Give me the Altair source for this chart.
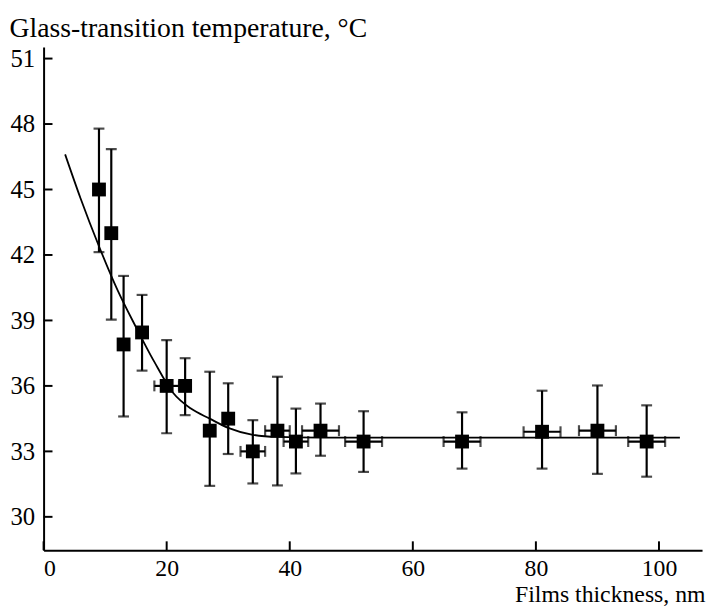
import altair as alt
import pandas as pd

# ---- data ----
thickness = [9, 11, 13, 16, 20, 23, 27, 30, 34, 38, 41, 45, 52, 68, 81, 90, 98]
tg = [45.0, 43.0, 37.9, 38.45, 36.0, 36.0, 33.95, 34.5, 33.0, 33.95, 33.45,
      33.95, 33.45, 33.45, 33.9, 33.95, 33.45]
tg_low = [42.13, 39.04, 34.6, 36.7, 33.83, 34.66, 31.42, 32.88, 31.53, 31.44,
          31.99, 32.8, 32.06, 32.21, 32.21, 31.97, 31.84]
tg_high = [47.79, 46.85, 41.04, 40.17, 38.1, 37.27, 36.65, 36.12, 34.43, 36.42,
           34.96, 35.19, 34.84, 34.79, 35.78, 36.02, 35.11]
thick_err = [0, 0, 0, 0, 2, 0, 0, 0, 2, 2, 2, 3, 3, 3, 3, 3, 3]

fit_thickness = [3.5, 6, 9, 12, 15, 18, 21, 24, 27, 30, 34, 38, 45, 103.4]
fit_tg = [46.61, 44.6, 42.4, 40.4, 38.7, 37.1, 35.7, 34.95, 34.5, 34.08,
          33.76, 33.66, 33.63, 33.63]

x_ticks = [0, 20, 40, 60, 80, 100]
y_ticks = [30, 33, 36, 39, 42, 45, 48, 51]

W, H = 666, 509
FONT = "Liberation Serif"

pts = pd.DataFrame(dict(t=thickness, tg=tg, lo=tg_low, hi=tg_high, xe=thick_err))
pts["xlo"] = pts["t"] - pts["xe"]
pts["xhi"] = pts["t"] + pts["xe"]
fit = pd.DataFrame(dict(t=fit_thickness, tg=fit_tg))

xs = alt.Scale(domain=[0, 107], nice=False, zero=False)
ys = alt.Scale(domain=[28.47, 51.53], nice=False, zero=False)

xaxis = alt.Axis(values=x_ticks, title="Films thickness, nm", ticks=False, tickSize=0,
                 grid=False, domainColor="black", domainWidth=2,
                 labelFont=FONT, labelFontSize=24, labelColor="black", labelPadding=7,
                 titleFont=FONT, titleFontSize=24, titleFontWeight="normal",
                 titleColor="black", titleX=669, titleY=52, titleAlign="right",
                 titleBaseline="alphabetic")
yaxis = alt.Axis(values=y_ticks, title="Glass-transition temperature, °C", ticks=False,
                 tickSize=0, grid=False, domainColor="black", domainWidth=2,
                 labelFont=FONT, labelFontSize=25, labelColor="black", labelPadding=9,
                 titleFont=FONT, titleFontSize=28, titleFontWeight="normal",
                 titleColor="black", titleAngle=0, titleX=-35, titleY=-11,
                 titleAlign="left", titleBaseline="alphabetic")


def X(f):
    return alt.X(f, scale=xs, axis=xaxis)


def Y(f):
    return alt.Y(f, scale=ys, axis=yaxis)


curve = alt.Chart(fit).mark_line(color="black", strokeWidth=1.8, interpolate="monotone").encode(
    x=X("t:Q"), y=Y("tg:Q"))

base = alt.Chart(pts)
vbars = base.mark_rule(color="black", strokeWidth=2.2).encode(
    x=X("t:Q"), y=Y("lo:Q"), y2="hi:Q")
vcap_lo = base.mark_tick(color="black", thickness=2.2, size=11, orient="horizontal").encode(
    x=X("t:Q"), y=Y("lo:Q"))
vcap_hi = base.mark_tick(color="black", thickness=2.2, size=11, orient="horizontal").encode(
    x=X("t:Q"), y=Y("hi:Q"))

hbase = base.transform_filter("datum.xe > 0")
hbars = hbase.mark_rule(color="black", strokeWidth=2.2).encode(
    x=X("xlo:Q"), x2="xhi:Q", y=Y("tg:Q"))
hcap_lo = hbase.mark_tick(color="black", thickness=2.2, size=11, orient="vertical").encode(
    x=X("xlo:Q"), y=Y("tg:Q"))
hcap_hi = hbase.mark_tick(color="black", thickness=2.2, size=11, orient="vertical").encode(
    x=X("xhi:Q"), y=Y("tg:Q"))

squares = base.mark_square(color="black", size=196, opacity=1, filled=True,
                           cornerRadius=2).encode(
    x=X("t:Q"), y=Y("tg:Q"))

ytick_rules = alt.Chart(pd.DataFrame({"v": y_ticks})).mark_rule(
    color="black", strokeWidth=2).encode(
    y=Y("v:Q"), x=alt.value(0), x2=alt.value(9))
xtick_rules = alt.Chart(pd.DataFrame({"v": x_ticks})).mark_rule(
    color="black", strokeWidth=2).encode(
    x=X("v:Q"), y=alt.value(H), y2=alt.value(H - 9))

chart = alt.layer(
    curve, vbars, vcap_lo, vcap_hi, hbars, hcap_lo, hcap_hi, squares,
    ytick_rules, xtick_rules,
).properties(
    width=W, height=H,
    autosize=alt.AutoSizeParams(type="none"),
    padding={"left": 36, "top": 36, "right": 4, "bottom": 57},
    background="white",
).configure_view(stroke=None)

chart.save("out.html", embed_options={"renderer": "svg", "actions": False})
